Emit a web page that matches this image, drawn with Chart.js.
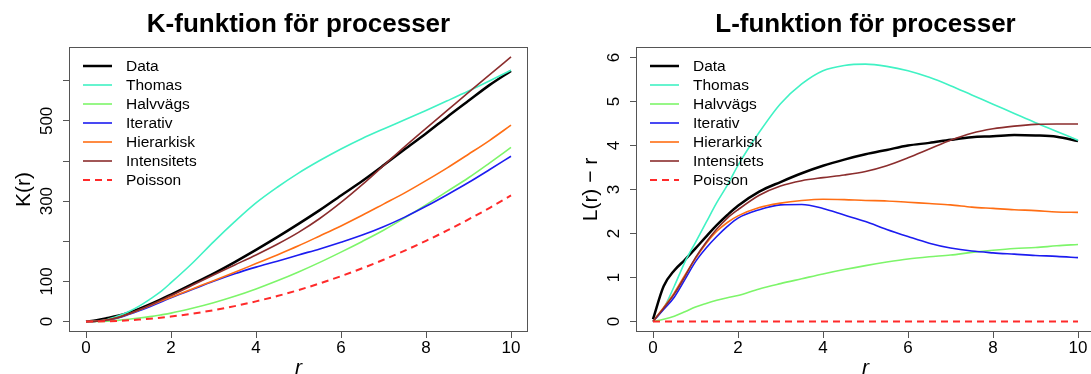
<!DOCTYPE html>
<html>
<head>
<meta charset="utf-8">
<script src="https://cdn.jsdelivr.net/npm/chart.js@4.4.1/dist/chart.umd.min.js"></script>
<style>
  html, body { margin: 0; padding: 0; background: #fff; overflow: hidden; }
  #wrap { position: relative; width: 1091px; height: 374px; overflow: hidden; }
  canvas { position: absolute; top: 0; }
  #kChart { left: 0; }
  #lChart { left: 567px; }
</style>
</head>
<body>
<div id="wrap">
  <canvas id="kChart" width="567" height="374"></canvas>
  <canvas id="lChart" width="567" height="374"></canvas>
</div>
<script>
'use strict';

// r values the curves were read at
let rValues = [0, 0.25, 0.5, 0.75, 1, 1.25, 1.5, 1.75, 2, 2.5, 3, 3.5, 4, 4.5, 5, 5.5, 6, 6.5, 7, 7.5, 8, 8.5, 9, 9.5, 10];

let seriesNames = ['Data', 'Thomas', 'Halvvägs', 'Iterativ', 'Hierarkisk', 'Intensitets', 'Poisson'];
let seriesColors = ['#000000', '#40f2c4', '#7df56a', '#1c1cf0', '#ff6e14', '#8b2d2d', '#ff2a2a'];
let seriesWidths = [2.5, 1.6, 1.6, 1.6, 1.6, 1.6, 2];

// K-funktion
let kData = [0.01, 3.5, 8.7, 14.5, 22.2, 31.8, 42.8, 54.6, 67.4, 93.3, 119.6, 148.3, 178.6, 210.2, 243.3, 277.6, 314.2, 350.3, 389.2, 429.3, 468.4, 509.9, 549.9, 589.6, 624.6];
let kThomas = [0, 1.0, 5.3, 13.9, 24.6, 38.5, 55.4, 73.9, 96.8, 145.3, 198.6, 248.9, 295.6, 334.6, 369.8, 401.1, 430.0, 456.2, 479.9, 502.7, 526.0, 549.9, 574.3, 600.0, 626.3];
let kHalvvags = [0, 0.3, 1.2, 3.0, 5.6, 8.7, 12.3, 16.5, 21.1, 33.0, 46.8, 62.8, 81.1, 101.4, 123.5, 147.4, 173.0, 199.6, 227.5, 258.4, 290.7, 324.3, 358.3, 395.5, 433.7];
let kIterativ = [0, 0.9, 3.5, 9.1, 17.5, 26.8, 37.0, 48.0, 59.5, 79.8, 100.3, 119.2, 135.6, 150.4, 166.0, 181.0, 197.6, 215.4, 236.2, 260.2, 287.1, 316.1, 346.4, 378.8, 411.9];
let kHierarkisk = [0, 1.0, 4.2, 10.2, 18.6, 28.7, 39.6, 50.3, 60.8, 81.4, 101.7, 122.7, 144.4, 166.0, 188.7, 213.3, 238.3, 264.8, 292.6, 320.5, 351.0, 382.9, 416.9, 451.6, 489.3];
let kIntensitets = [0, 1.0, 3.9, 9.8, 18.9, 29.2, 40.7, 52.8, 64.8, 90.6, 116.1, 141.0, 166.0, 192.6, 222.2, 256.7, 296.8, 341.1, 388.5, 436.0, 481.5, 526.0, 570.9, 614.9, 659.6];
let kPoisson = [0, 0.2, 0.8, 1.8, 3.1, 4.9, 7.1, 9.6, 12.6, 19.6, 28.3, 38.5, 50.3, 63.6, 78.5, 95.0, 113.1, 132.7, 153.9, 176.7, 201.1, 227.0, 254.5, 283.5, 314.2];

// L-funktion minus r
let lData = [0.05, 0.8, 1.16, 1.4, 1.66, 1.93, 2.19, 2.42, 2.63, 2.95, 3.17, 3.37, 3.54, 3.68, 3.8, 3.9, 4.0, 4.06, 4.13, 4.19, 4.21, 4.24, 4.23, 4.2, 4.1];
let lThomas = [0, 0.3, 0.8, 1.35, 1.8, 2.25, 2.7, 3.1, 3.55, 4.3, 4.95, 5.4, 5.7, 5.82, 5.85, 5.8, 5.7, 5.55, 5.36, 5.15, 4.94, 4.73, 4.52, 4.32, 4.12];
let lHalvvags = [0, 0.05, 0.12, 0.22, 0.33, 0.41, 0.48, 0.54, 0.59, 0.74, 0.86, 0.97, 1.08, 1.18, 1.27, 1.35, 1.42, 1.47, 1.51, 1.57, 1.62, 1.66, 1.68, 1.72, 1.75];
let lIterativ = [0, 0.27, 0.55, 0.95, 1.36, 1.67, 1.93, 2.16, 2.35, 2.54, 2.65, 2.66, 2.57, 2.42, 2.27, 2.09, 1.93, 1.78, 1.67, 1.6, 1.56, 1.53, 1.5, 1.48, 1.45];
let lHierarkisk = [0, 0.32, 0.65, 1.05, 1.43, 1.77, 2.05, 2.25, 2.4, 2.59, 2.69, 2.75, 2.78, 2.77, 2.75, 2.74, 2.71, 2.68, 2.65, 2.6, 2.57, 2.54, 2.52, 2.49, 2.48];
let lIntensitets = [0, 0.3, 0.62, 1.02, 1.45, 1.8, 2.1, 2.35, 2.54, 2.87, 3.08, 3.2, 3.27, 3.33, 3.41, 3.54, 3.72, 3.92, 4.12, 4.28, 4.38, 4.44, 4.48, 4.49, 4.49];
let lPoisson = [0, 0, 0, 0, 0, 0, 0, 0, 0, 0, 0, 0, 0, 0, 0, 0, 0, 0, 0, 0, 0, 0, 0, 0, 0];

// axis ticks
let xTicks = [0, 2, 4, 6, 8, 10];
let kTicks = [0, 100, 200, 300, 400, 500, 600];
let kTickLabels = ['0', '100', '', '300', '', '500', ''];
let lTicks = [0, 1, 2, 3, 4, 5, 6];
let lTickLabels = ['0', '1', '2', '3', '4', '5', '6'];

const fontFamily = '"Liberation Sans", Arial, Helvetica, sans-serif';
Chart.defaults.font.family = fontFamily;

// box, main title and legend drawn the way R does it
const rDecor = {
  id: 'rDecor',
  afterDatasetsDraw(chart) {
    const { ctx, chartArea: a } = chart;
    ctx.save();
    ctx.strokeStyle = '#555';
    ctx.lineWidth = 1;
    ctx.strokeRect(a.left + 0.5, a.top + 0.5, a.right - a.left - 1, a.bottom - a.top - 1);
    ctx.restore();
  },
  afterDraw(chart, args, opts) {
    const { ctx, chartArea: a } = chart;
    ctx.save();
    ctx.fillStyle = '#000';
    ctx.font = 'bold 26px ' + fontFamily;
    ctx.textAlign = 'center';
    ctx.textBaseline = 'alphabetic';
    ctx.fillText(opts.title, (a.left + a.right) / 2, 31.7);

    ctx.font = '15.5px ' + fontFamily;
    ctx.textAlign = 'left';
    ctx.textBaseline = 'middle';
    chart.data.datasets.forEach((ds, i) => {
      let y = a.top + 19 + i * 19;
      ctx.beginPath();
      ctx.strokeStyle = ds.borderColor;
      ctx.lineWidth = ds.borderWidth;
      ctx.setLineDash(ds.borderDash || []);
      ctx.moveTo(a.left + 14, y);
      ctx.lineTo(a.left + 43, y);
      ctx.stroke();
      ctx.setLineDash([]);
      ctx.fillStyle = '#000';
      ctx.fillText(ds.label, a.left + 57, y + 1);
    });
    ctx.restore();
  }
};

function makeDatasets(seriesList) {
  let sets = [];
  for (let s = 0; s < seriesList.length; s++) {
    sets.push({
      label: seriesNames[s],
      data: rValues.map((r, i) => ({ x: r, y: seriesList[s][i] })),
      borderColor: seriesColors[s],
      borderWidth: seriesWidths[s],
      borderDash: seriesNames[s] === 'Poisson' ? [7, 5] : [],
      pointRadius: 0,
      cubicInterpolationMode: 'monotone',
      order: seriesList.length - s
    });
  }
  return sets;
}

function makeChart(id, title, yTitle, seriesList, yMin, yMax, yTicks, yTickLabels, yPad) {
  const ctx = document.getElementById(id).getContext('2d');
  return new Chart(ctx, {
    type: 'line',
    data: { datasets: makeDatasets(seriesList) },
    plugins: [rDecor],
    options: {
      responsive: false,
      animation: false,
      layout: { padding: { left: 0, right: 39, top: 47, bottom: 0 } },
      plugins: {
        legend: { display: false },
        tooltip: { enabled: false },
        rDecor: { title: title }
      },
      scales: {
        x: {
          type: 'linear',
          min: -0.4,
          max: 10.4,
          afterBuildTicks: s => { s.ticks = xTicks.map(v => ({ value: v })); },
          afterFit: s => { s.height = 42; },
          border: { display: false },
          grid: { drawOnChartArea: false, drawTicks: true, tickLength: 6, color: '#555' },
          ticks: { font: { size: 17 }, color: '#000', padding: 0.5, maxRotation: 0, autoSkip: false },
          title: { display: true, text: 'r', color: '#000', font: { size: 21, style: 'italic' }, padding: { top: 0, bottom: -7 } }
        },
        y: {
          type: 'linear',
          min: yMin,
          max: yMax,
          afterBuildTicks: s => { s.ticks = yTicks.map(v => ({ value: v })); },
          afterFit: s => { s.width = 69; },
          border: { display: false },
          grid: { drawOnChartArea: false, drawTicks: true, tickLength: 6, color: '#555' },
          ticks: {
            font: { size: 17 }, color: '#000', padding: yPad, autoSkip: false,
            minRotation: 90, maxRotation: 90, crossAlign: 'center',
            callback: (v, i) => yTickLabels[i]
          },
          title: { display: true, text: yTitle, color: '#000', font: { size: 21 }, padding: { top: 11.5, bottom: 0 } }
        }
      }
    }
  });
}

makeChart('kChart', 'K-funktion för processer', 'K(r)',
  [kData, kThomas, kHalvvags, kIterativ, kHierarkisk, kIntensitets, kPoisson],
  -26, 684, kTicks, kTickLabels, 1.5);

makeChart('lChart', 'L-funktion för processer', 'L(r) \u2212 r',
  [lData, lThomas, lHalvvags, lIterativ, lHierarkisk, lIntensitets, lPoisson],
  -0.24, 6.24, lTicks, lTickLabels, 11);
</script>
</body>
</html>
